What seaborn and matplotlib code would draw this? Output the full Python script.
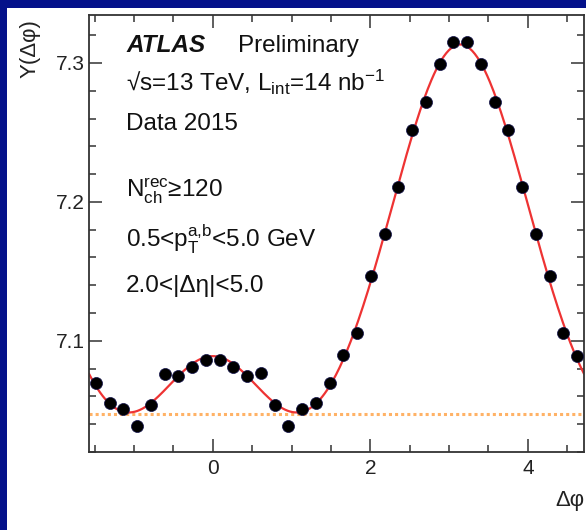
import numpy as np
import matplotlib
matplotlib.use("Agg")
import matplotlib.pyplot as plt
from matplotlib.patches import Rectangle
from matplotlib.ticker import MultipleLocator
import seaborn as sns

sns.set_theme(style="ticks")
plt.rcParams["font.family"] = ["Liberation Sans", "DejaVu Sans"]
plt.rcParams["mathtext.fontset"] = "custom"
plt.rcParams["mathtext.rm"] = "Liberation Sans"
plt.rcParams["mathtext.it"] = "Liberation Sans:italic"
plt.rcParams["mathtext.bf"] = "Liberation Sans:bold"

# =========================
# DATA
# =========================
n_bins = 36
y_vals = [7.070, 7.055, 7.051, 7.039, 7.054, 7.076, 7.075, 7.081, 7.086,
          7.086, 7.081, 7.075, 7.077, 7.054, 7.039, 7.051, 7.055, 7.070,
          7.090, 7.106, 7.147, 7.177, 7.211, 7.252, 7.272, 7.299, 7.315,
          7.315, 7.299, 7.272, 7.252, 7.211, 7.177, 7.147, 7.106, 7.089]
baseline = 7.047
x_ticks = [0, 2, 4]
y_ticks = [7.1, 7.2, 7.3]

edges = np.linspace(-np.pi / 2, 3 * np.pi / 2, n_bins + 1)
x_vals = 0.5 * (edges[:-1] + edges[1:])

# Fourier fit of the points (harmonics 1..4), like the original fit curve
harm = np.arange(1, 5)
A = np.column_stack([np.ones_like(x_vals)] + [np.cos(n * x_vals) for n in harm])
coef, *_ = np.linalg.lstsq(A, np.array(y_vals), rcond=None)
x_fit = np.linspace(-np.pi / 2, 3 * np.pi / 2, 400)
A_fit = np.column_stack([np.ones_like(x_fit)] + [np.cos(n * x_fit) for n in harm])
y_fit = A_fit @ coef

W, H = 586, 530
fig = plt.figure(figsize=(W / 100, H / 100), dpi=100)
fig.patch.set_facecolor("#04118a")
fig.patches.append(Rectangle((7 / W, 0), 1, 1 - 8 / H, transform=fig.transFigure,
                             facecolor="white", edgecolor="none", zorder=-10))

ax = fig.add_axes([89 / W, 1 - 452 / H, (584 - 89) / W, (452 - 15) / H])
ax.set_facecolor("white")

ax.axhline(baseline, color="#ffb266", lw=2.2, ls=(0, (1, 1)), zorder=1)
sns.lineplot(x=x_fit, y=y_fit, ax=ax, color="#ee3333", lw=1.6, zorder=2)
sns.scatterplot(x=x_vals, y=y_vals, ax=ax, color="black", s=75,
                edgecolor="#10104a", linewidth=0.5, zorder=3)

ax.set_xlim(-np.pi / 2, 3 * np.pi / 2)
ax.set_ylim(7.02, 7.3345)
ax.set_xticks(x_ticks)
ax.set_yticks(y_ticks)
ax.xaxis.set_minor_locator(MultipleLocator(0.5))
ax.yaxis.set_minor_locator(MultipleLocator(0.02))
ax.tick_params(which="both", direction="in", top=True, right=True,
               colors="#333333", labelcolor="#222222", labelsize=15)
ax.tick_params(which="major", length=9.5, width=1.1)
ax.tick_params(which="minor", length=5, width=1.1)
ax.tick_params(axis="y", pad=3)
ax.tick_params(axis="x", pad=5)
for s in ax.spines.values():
    s.set_color("#333333")
    s.set_linewidth(1.3)
ax.set_xlabel("")
ax.set_ylabel("")

# labels and annotations
def fx(px):
    return px / W

def fy(py):
    return 1 - py / H

fig.text(fx(30), fy(19), "Y(Δφ)", rotation=90, ha="center", va="top",
         fontsize=16, color="#222222")
fig.text(fx(585), fy(490), "Δφ", ha="right", va="top", fontsize=16,
         color="#222222")

fs = 17.5
fig.text(fx(126), fy(52), "ATLAS", fontsize=fs, weight="bold", style="italic",
         color="#111111", va="baseline")
fig.text(fx(238), fy(52), "Preliminary", fontsize=fs, color="#111111",
         va="baseline")
fig.text(fx(126), fy(91), r"√s=13 TeV, L$_{\mathrm{int}}$=14 nb$^{-1}$",
         fontsize=fs, color="#111111", va="baseline")
fig.text(fx(126), fy(130), "Data 2015", fontsize=fs, color="#111111",
         va="baseline")
fig.text(fx(126), fy(198), r"N$_{\mathrm{ch}}^{\mathrm{rec}}$≥120", fontsize=fs,
         color="#111111", va="baseline")
fig.text(fx(126), fy(247), r"0.5<p$_{\mathrm{T}}^{\mathrm{a{,}b}}$<5.0 GeV",
         fontsize=fs, color="#111111", va="baseline")
fig.text(fx(126), fy(292), "2.0<|Δη|<5.0", fontsize=fs, color="#111111",
         va="baseline")

fig.savefig("out.png", dpi=100, facecolor=fig.get_facecolor())
